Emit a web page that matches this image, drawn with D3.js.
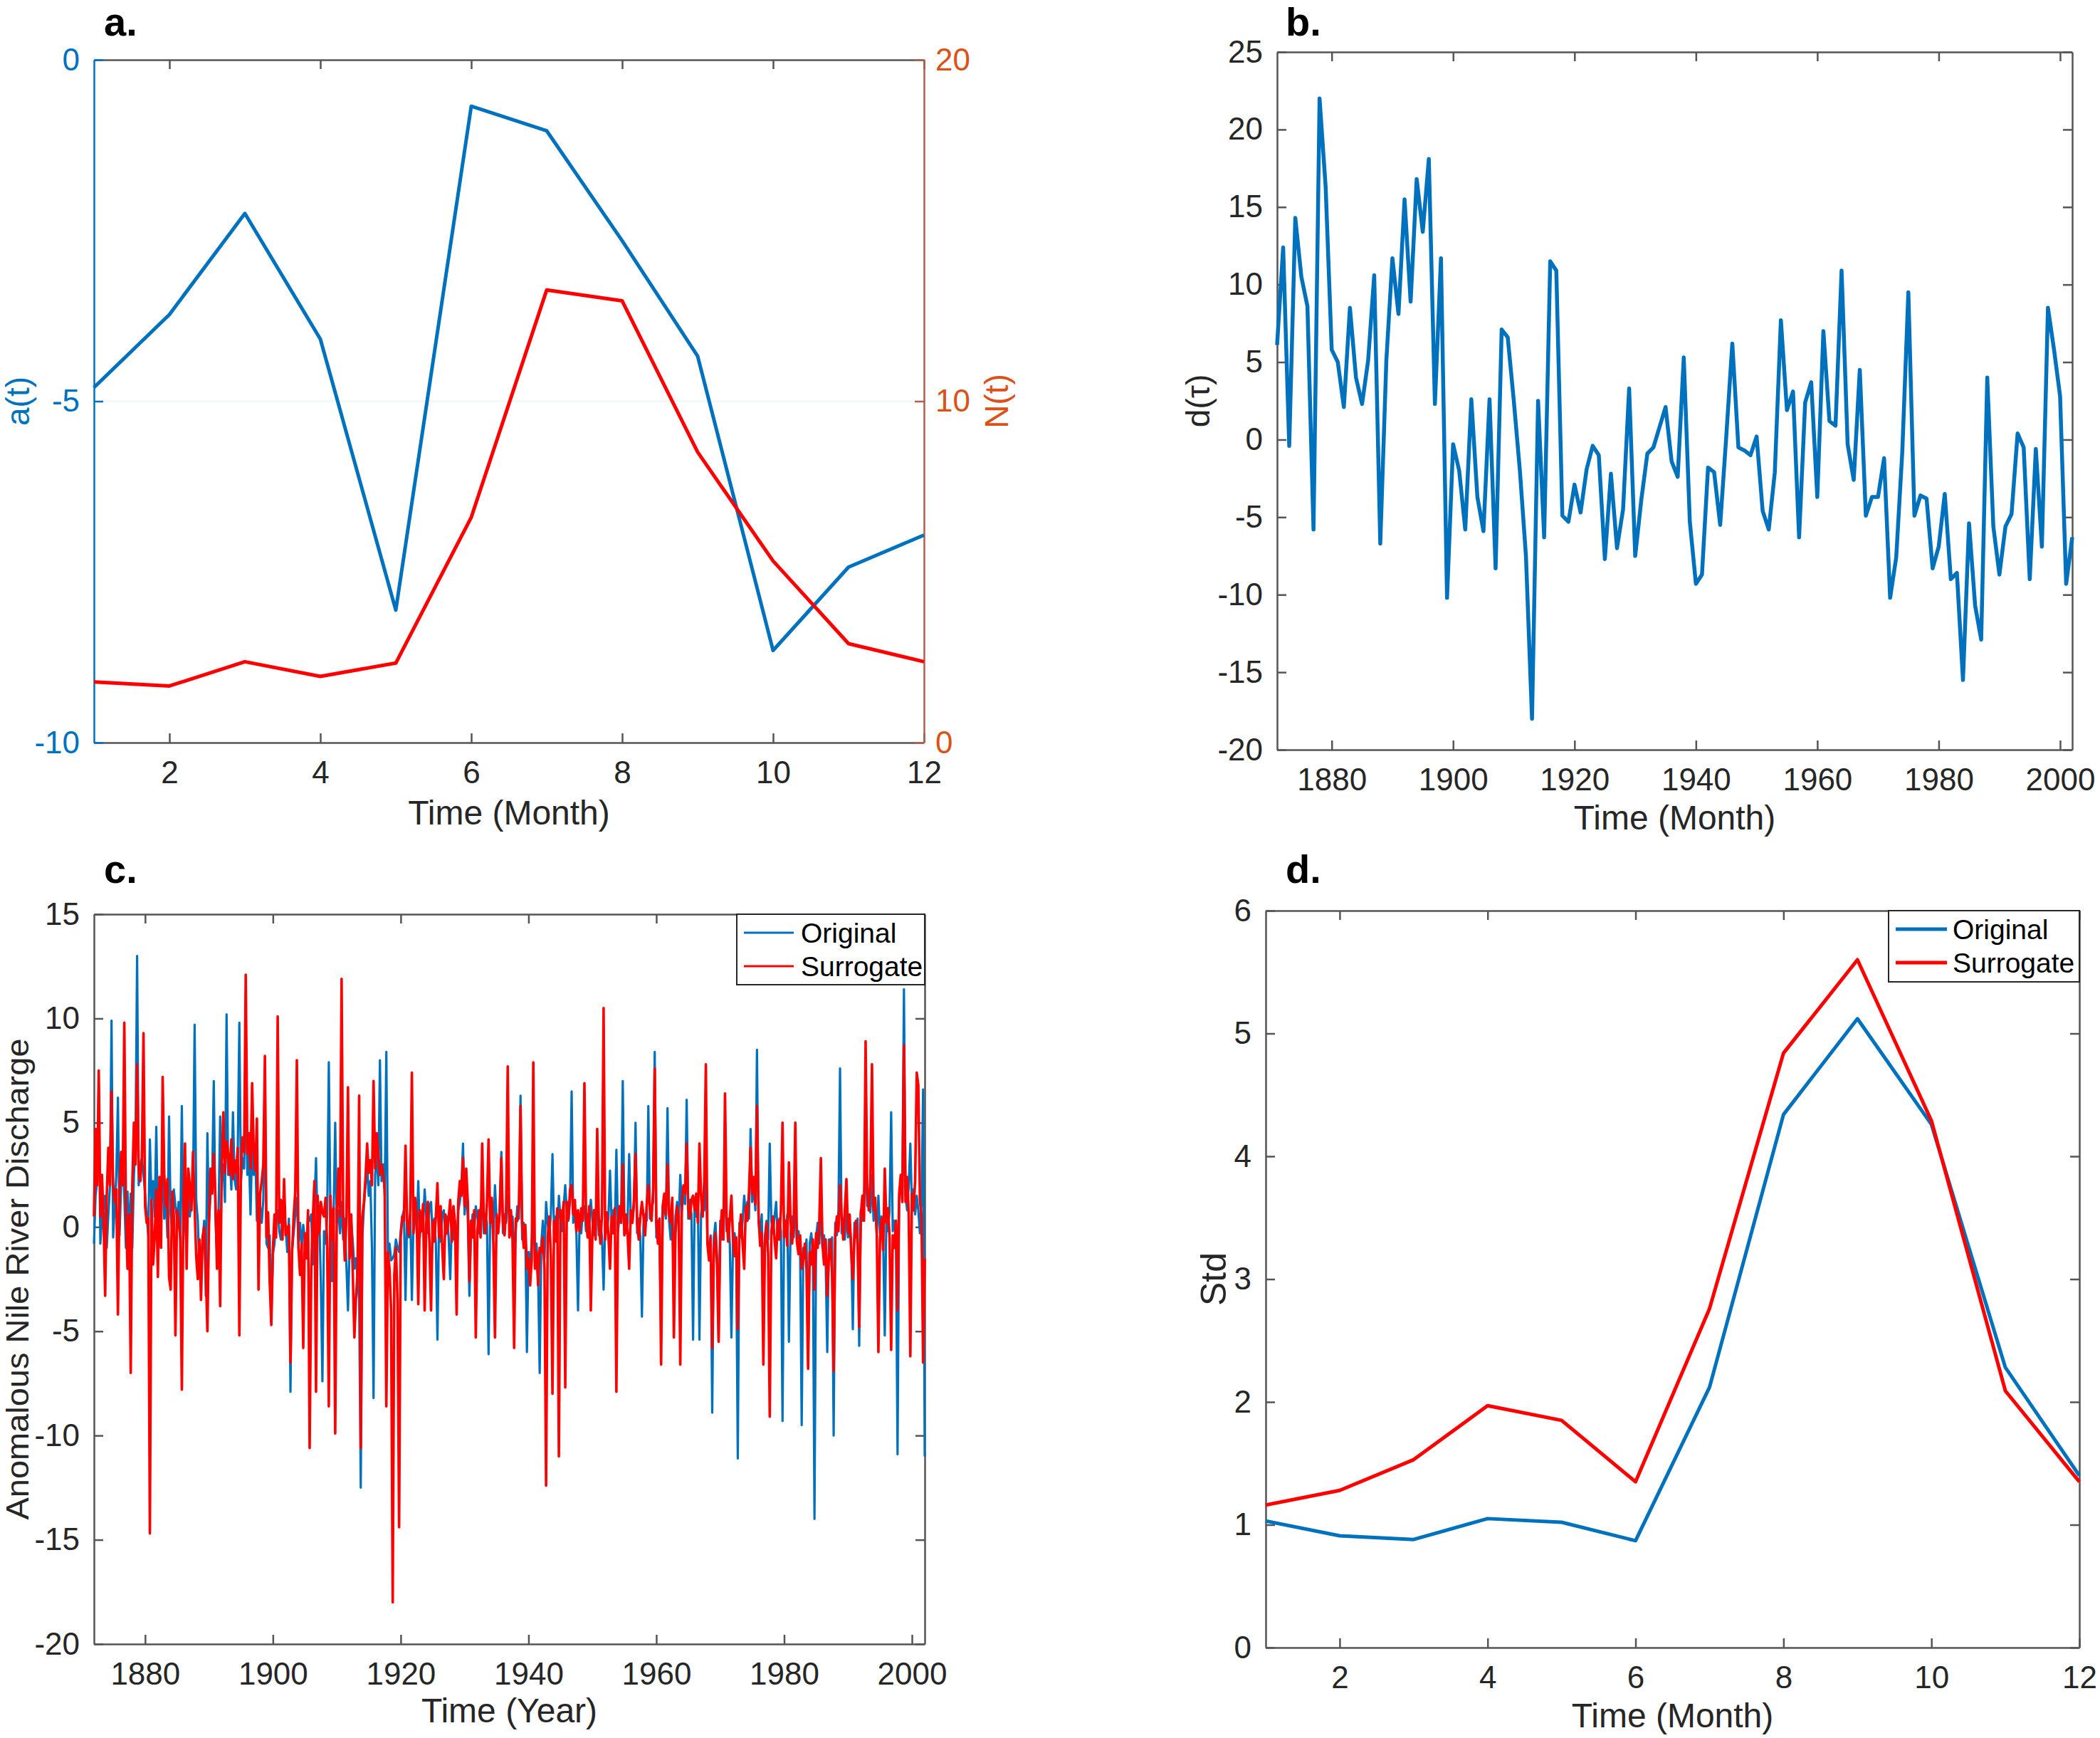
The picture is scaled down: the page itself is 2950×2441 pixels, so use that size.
<!DOCTYPE html>
<html>
<head>
<meta charset="utf-8">
<script src="https://cdn.jsdelivr.net/npm/d3@7"></script>
<style>
body { margin: 0; background: #fff; }
svg { display: block; }
</style>
</head>
<body>
<svg id="fig"></svg>
<script>
// panel a: monthly a(t) and N(t)
const months = [1,2,3,4,5,6,7,8,9,10,11,12];
const aT = [-4.80,-3.73,-2.25,-4.09,-8.06,-0.68,-1.04,-2.65,-4.34,-8.65,-7.43,-6.96];
const nT = [1.78,1.66,2.37,1.94,2.33,6.60,13.26,12.94,8.51,5.32,2.90,2.37];

// panel b: yearly d(tau), 1871..2002
const dTauStart = 1871;
const dTau = [
  6.1,12.4,-0.4,14.3,10.5,8.6,-5.8,22.0,16.3,
  5.8,5.0,2.1,8.5,4.0,2.3,5.1,10.6,-6.7,5.1,
  11.7,8.1,15.5,8.9,16.8,13.4,18.1,2.3,11.7,-10.2,
  -0.3,-2.0,-5.8,2.6,-3.7,-5.9,2.6,-8.3,7.1,6.6,
  2.5,-2.0,-7.5,-18.0,2.5,-6.3,11.5,10.9,-4.9,-5.3,
  -2.9,-4.7,-1.9,-0.4,-1.0,-7.7,-2.2,-7.0,-4.5,3.3,
  -7.5,-3.9,-0.9,-0.5,0.8,2.1,-1.4,-2.4,5.3,-5.3,
  -9.3,-8.7,-1.8,-2.1,-5.5,0.2,6.2,-0.5,-0.7,-1.0,
  0.2,-4.6,-5.8,-2.1,7.7,1.9,3.1,-6.3,2.4,3.7,
  -3.7,7.0,1.2,0.9,10.9,-0.3,-2.6,4.5,-4.9,-3.7,
  -3.7,-1.2,-10.2,-7.6,-0.8,9.5,-4.9,-3.6,-3.8,-8.3,
  -6.9,-3.5,-9.0,-8.6,-15.5,-5.4,-10.7,-12.9,4.0,-5.6,
  -8.7,-5.6,-4.8,0.4,-0.5,-9.0,-0.6,-6.9,8.5,5.8,
  2.8,-9.3,-6.3
];

// panel c: anomalous discharge, read at quarter-year steps from 1872
const dischargeStart = 1872;
const dischargeStep = 0.25;
const discOriginal = [
  -0.8,1.5,2.2,6.8, -0.8,0.5,1,1.5, -1,0.6,2,9.9, -0.5,1,2.5,6.2, -0.4,2,3.4,1.5,
  -1,1.7,-0.5,1.6, -1,2.5,4,13, 2,3,3.3,2.5,
  1.6,0.5,-0.4,4.2, 1.3,2.2,0.5,4.8, 0.3,1,2,2.5, 0.4,1.5,-0.5,5.3, 0.6,-0.3,1.8,1,
  0.4,1.2,-0.6,5.8, -0.6,0.8,0.3,1.5, 0.5,1.4,1.7,9.7, 1.3,0.3,-2,-1.5, -0.6,0.3,-3.3,4.5,
  0.2,1.6,2.3,7, 0.5,-1.3,0.7,5.3, 2.2,3,1.2,10.2, 2.5,3.5,1.8,5.5, 2.3,1.8,3.6,9.8,
  2.2,3.3,2.8,7, 2.5,3.5,0.6,4, 2.5,3.5,0.3,1.5, 1,0.2,1.3,6.5, -0.8,-1,-0.4,-4.5,
  -1.3,-0.8,0.4,0.8, -0.2,-0.6,0.3,0.8, 0,-1.2,0.4,-7.9, -1.1,-0.3,0.6,1.4, -0.8,0.2,-1,0.1,
  -0.6,-1.4,0.5,0.3, 0.6,-1.8,1,3.3, -0.4,0.6,-2.6,-7.4, -0.2,-0.8,0.6,7.9, 0.6,-2.6,0.6,5,
  0.2,0.8,-0.3,1.2, -0.6,0.4,-1.8,-4, -1,0.3,-0.7,-2, -1.5,-2.5,-3.5,-12.5, -0.5,1,2,3,
  1.5,2.2,-1,-8.2, 2.5,3.5,2,8, 2.2,3,1.5,8.4, -1.3,-0.8,-1.6,-1.5, -1.3,-0.6,-1,-1.2,
  -0.2,0.5,0.8,-3.5, 0.3,-0.5,0.6,-3.5, 0.3,1,-0.2,2.2, -0.5,0.6,0.2,1.8, 0.5,-0.3,1,1.2,
  -0.5,0.4,-0.8,-5.4, 0.3,-0.7,0.6,0.8, -0.4,0.5,-0.5,-2.5, 0.2,-0.6,0.3,-1.2, 0.8,1.2,2,4,
  0.6,1.8,0.5,-3.3, -0.4,0.6,-0.2,1, 0.5,-0.3,0.9,1.4, -0.3,0.6,0.2,-6.1, 0.5,1.3,-0.5,2,
  0.4,-0.2,1,3.6, -0.3,0.6,0.2,1.5, 0.6,-0.4,0.5,-1.2, -0.2,1,0.4,6.3, -0.6,0.2,-0.3,-6,
  -1.2,-1.8,-0.8,1, -1.5,-0.8,-2.2,-7, -0.8,0.3,-1.5,1.2, 0.2,-0.4,0.6,3.5, -0.3,0.5,-0.6,1.5,
  0.4,-0.2,1,2, 0.7,0.3,1.3,6.5, 0.2,0.9,-0.4,-4, 0.4,-0.3,0.8,1, -0.2,0.6,0.2,1.3,
  0.3,-0.4,0.5,1.5, -0.4,0.3,-0.5,-3, 0.2,-0.2,0.4,2.7, 0.3,0.8,-0.2,3.7, -0.2,0.5,0.6,7,
  0.4,-0.3,0.2,3.5, 0.6,0.2,1,5, -0.3,0.4,-0.5,-4.3, 0.2,0.6,0.3,5.8, 0.4,0.9,1.2,8.4,
  -0.5,0.3,-0.8,-4.5, 0.6,1,0.4,5.7, 0.3,-0.6,0.9,-3, 0.5,1.2,0.2,2.5, 0.8,1.5,1.1,6.1,
  0.4,1.3,0.6,-5.4, 1.2,0.5,1.4,-5.4, 0.6,1.4,0.8,2.5, -0.6,-1.2,-0.4,-8.9, -0.5,0.2,-1.4,-5.3,
  0.3,-0.6,0.5,1.8, -0.2,0.4,-0.8,-5.3, -0.8,-0.3,-1.2,-11.1, 0.2,-0.5,0.3,1.5, 0.6,1.2,0.4,4.7,
  1.2,2,0.8,8.5, 0.2,-0.5,0.6,-4, -0.4,0.3,-0.6,4, 0.3,-0.3,0.5,1.2, -0.5,0.4,-0.2,-9.3,
  0.4,-0.3,0.6,-5.5, -0.3,0.5,-0.5,1.5, -0.6,-0.2,-0.9,-9.5, -1,-1.5,-0.6,-6.3, -0.8,-0.3,-1.2,-14,
  -0.5,0.2,-0.8,1.2, -1,-0.4,-1.6,-6, -0.6,-1.2,-0.5,-10, 0.2,-0.4,0.8,7.6, -0.3,0.4,-0.6,1,
  -0.5,0.2,-0.8,-4.9, 0.2,-0.5,0.4,-5.7, 0.8,0.3,1.2,3.5, 1,1.6,0.7,2.5, 0.3,0.9,-0.3,1.5,
  -0.3,0.5,-0.6,-5.2, 0.4,-0.2,0.8,5.5, -0.2,0.3,-0.5,-10.9, 1.2,2,1.6,11.4, 1.5,0.8,2,4,
  1,1.8,0.6,1.5, 0.8,-0.3,1.2,6.6, -11
];
const discSurrogate = [
  0.5,4.7,2,7.5, 0.5,2.5,0.4,-3.3, 1.5,3.8,2,6.5, 2,1.2,1.8,-4.2, 1.6,3.6,2,9.8,
  0.8,-2,0.6,-7, 2,5,3,7.8, 2.7,2.2,3.3,9.3,
  1,0.2,0.4,-14.7, 1.3,-1.8,-0.5,1.8, -2.4,2.4,-1,7.2, 2.5,1,2.3,-2.4, -3,1.7,0.5,-5.2,
  0.8,0.4,-0.5,-7.8, 1.2,4,-2,2.8, 2,0.8,3.6,1, -1.4,-2.5,-0.6,-3.5, -0.5,0,-2,-5,
  0.2,2.8,1.6,3.5, 1.5,-2,0.8,-3.8, 3,5.5,2.6,4.1, 3.5,2.5,4.2,2.3, 3.2,2.6,3.8,-5.2,
  2.8,4.3,3.6,12.1, 3.5,4.5,2.8,6.9, 3.6,2.7,5.2,-3, 1.6,2.2,3,8.2, -0.5,0.7,-2.6,-4.7,
  -1.1,0.6,-0.5,10.1, 0.2,1.3,-0.6,2.3, -0.4,-0.1,0.1,-6.5, -1.2,0.5,1.7,8, -1,-2.3,-0.8,-5.8,
  -0.3,-1.5,0.8,-10.6, -2,0.4,2.2,-7.9, 1.5,-0.3,1.2,0.7, 0.5,1.4,-1,-8.6, 1.5,-0.6,0.9,-9.9,
  0.7,2.8,0.5,11.9, 0.6,-1.6,0.4,6.7, -1.5,0.6,-2.2,-5.3, -3.4,-2.2,6.3,-10.6, 0.5,1.2,2.4,4,
  2.6,3.2,2,7, 2.8,4.5,3.5,2.5, 3,2.6,1.8,-8.6, -1.2,-2,-4,-18, -2.3,-1,-3.5,-14.4,
  -0.5,0.5,0.3,3.9, 0.2,-0.4,0.8,7.4, -0.3,1.4,0.5,-3.7, 0.8,-0.2,1.1,-4, 0.2,1.2,-0.8,-4,
  0.3,-0.7,0.5,2.1, -0.5,1,-1,-2.5, 0.6,-0.3,0.4,1.3, -0.7,1,0.2,-4.2, 1.2,2.2,1.5,3.3,
  1,2.8,1.2,-2.6, 0.3,-0.5,0.8,-5.3, -0.2,0.8,-0.5,4, 0.5,-0.3,1.2,4.2, 0.2,1.4,-0.8,-5.3,
  0.6,-0.3,0.7,3.3, 0.2,-0.4,1,7.7, -0.5,0.8,-0.6,-5.8, 0.4,0.3,1,5.8, 0.2,-1,0.1,-2,
  -1.5,-2.8,-1.6,7.9, -2,-1.2,-2.8,-1, -1.2,-0.5,-2,-12.4, -0.5,0.5,-1.4,-8, 0.3,-0.7,0.9,-11,
  0.8,0.3,1.2,-7.7, 1.2,0.4,1.8,2, 0.6,1.3,-0.2,0.8, -0.2,0.9,0.3,6.9, 0.5,-0.5,1,-4,
  -0.3,0.8,-0.6,4.7, 0.4,-0.8,0.6,10.5, -0.6,0.7,-0.4,-2, 0.5,-0.3,0.9,-7.9, 0.3,1,0.2,3,
  -0.4,0.6,-0.3,-2, 0.8,0.2,1.3,3.5, 0.2,-0.6,0.5,1.2, 0.5,-0.4,1.1,2, 0.9,0.3,1.8,7.6,
  0.3,-0.8,0.4,-6.6, 1,1.6,0.6,3, 0.6,0.2,1.4,-5.3, -0.3,1,0.5,-6.6, 1.2,2,1.6,4,
  0.9,0.4,1.3,1.5, 0.8,1.6,0.2,4, 1.5,0.5,2.2,7.8, -0.8,-1.6,-0.5,-5.8, -1.2,-0.3,-1.8,-5.5,
  -0.4,0.8,-0.6,6.4, 0.5,-0.7,0.4,1.5, -0.6,-1.4,-0.5,-4.9, -0.3,0.6,-0.8,-2, 1,0.3,1.7,3.8,
  1.6,2.4,1.1,5.8, 0.6,-0.9,-0.3,-6.6, -0.8,0.2,-1.3,-9.1, -0.2,0.5,-0.6,-1.5, 0.3,-0.6,0.8,5,
  -0.5,0.3,-0.9,3.1, 0.4,-0.8,0.3,5, -0.7,-1.3,-0.4,-2, -1.5,-0.8,-2,-6.8, -1.2,-1.8,-0.6,-3,
  -0.3,-1,0.2,3.3, -0.8,-1.8,-0.6,-3.3, -1.5,-0.6,-2.2,-6.9, -0.4,0.5,-0.2,2, 0.5,-0.6,0.8,2.3,
  -0.3,0.6,-1.2,-2.5, -0.5,0.3,-0.9,-4.8, 0.6,1.5,0.3,8.9, 1.8,0.8,2.3,7.8, 0.8,1.4,-0.4,-6,
  -0.6,0.4,-1.1,2.8, 0.2,0.9,-0.5,-5.9, -0.4,-1,0.3,-4, 1.6,2.5,1.2,8.7, 1.2,2.4,0.6,-6.2,
  1.6,0.8,2.2,7.4, 6.8,1.3,0.5,-6.5, -1.5
];

// panel d: monthly standard deviation
const stdOriginal = [1.03,0.91,0.88,1.05,1.02,0.87,2.12,4.34,5.12,4.26,2.28,1.40];
const stdSurrogate = [1.16,1.28,1.53,1.97,1.85,1.35,2.76,4.84,5.60,4.29,2.09,1.35];

// ticks
const monthTicks = [2,4,6,8,10,12];
const yearTicks = [1880,1900,1920,1940,1960,1980,2000];
const aTicks = [-10,-5,0];
const nTicks = [0,10,20];
const dTauTicks = [-20,-15,-10,-5,0,5,10,15,20,25];
const dischargeTicks = [-20,-15,-10,-5,0,5,10,15];
const stdTicks = [0,1,2,3,4,5,6];
const legendLabels = ["Original","Surrogate"];

const blue = "#0072BD", red = "#FF0000", orange = "#D95319", ink = "#262626", rule = "#555555";
const font = "'Liberation Sans', Arial, Helvetica, sans-serif";
const tickLen = 13;

let svg = d3.select("#fig").attr("width", 2950).attr("height", 2441);
svg.append("rect").attr("width", 2950).attr("height", 2441).attr("fill", "white");

function styleAxis(sel, color, lineColor) {
  sel.attr("font-family", font).attr("font-size", 44).attr("color", color || ink);
  sel.select(".domain").attr("stroke-width", 2.5).attr("stroke", lineColor || rule);
  sel.selectAll(".tick line").attr("stroke-width", 2.5).attr("stroke", lineColor || rule);
}

function fmt(d) { return String(d); }

// box with ticks on all four sides, labels on bottom and left
function frame(g, x, y, w, h, xTicks, yTicks, opts) {
  opts = opts || {};
  g.append("g").attr("transform", "translate(0," + h + ")")
    .call(d3.axisBottom(x).tickValues(xTicks).tickSize(-tickLen).tickSizeOuter(0).tickPadding(26).tickFormat(fmt))
    .call(s => styleAxis(s));
  g.append("g")
    .call(d3.axisTop(x).tickValues(xTicks).tickSize(-tickLen).tickSizeOuter(0).tickFormat(""))
    .call(s => styleAxis(s));
  if (!opts.noY) {
    g.append("g")
      .call(d3.axisLeft(y).tickValues(yTicks).tickSize(-tickLen).tickSizeOuter(0).tickPadding(20).tickFormat(fmt))
      .call(s => styleAxis(s));
    g.append("g").attr("transform", "translate(" + w + ",0)")
      .call(d3.axisRight(y).tickValues(yTicks).tickSize(-tickLen).tickSizeOuter(0).tickFormat(""))
      .call(s => styleAxis(s));
  }
}

function xTitle(g, w, h, text, dy) {
  g.append("text").attr("x", w / 2).attr("y", h + dy)
    .attr("text-anchor", "middle").attr("font-family", font).attr("font-size", 48)
    .attr("fill", ink).text(text);
}

function yTitle(g, xpos, h, text, color, size, len) {
  let t = g.append("text").attr("transform", "translate(" + xpos + "," + (h / 2) + ") rotate(-90)")
    .attr("text-anchor", "middle").attr("font-family", font).attr("font-size", size || 48)
    .attr("fill", color || ink).text(text);
  if (len) t.attr("textLength", len).attr("lengthAdjust", "spacingAndGlyphs");
}

function panelLetter(x, y, text) {
  svg.append("text").attr("x", x).attr("y", y)
    .attr("font-family", font).attr("font-weight", "bold").attr("font-size", 56)
    .attr("fill", "black").text(text);
}

function legend(g, x0, y0, w, h, lineW, strokes, lineLen, textX) {
  let lg = g.append("g").attr("transform", "translate(" + x0 + "," + y0 + ")");
  lg.append("rect").attr("width", w).attr("height", h)
    .attr("fill", "white").attr("stroke", ink).attr("stroke-width", 2);
  legendLabels.forEach((lab, i) => {
    let cy = 26 + i * 47;
    lg.append("line").attr("x1", 10).attr("x2", 10 + lineLen).attr("y1", cy).attr("y2", cy)
      .attr("stroke", strokes[i]).attr("stroke-width", lineW);
    lg.append("text").attr("x", textX).attr("y", cy + 14)
      .attr("font-family", font).attr("font-size", 39).attr("fill", "black").text(lab);
  });
}

// ---------- panel a ----------
{
  let w = 1166, h = 959;
  let g = svg.append("g").attr("transform", "translate(132,84)");
  let x = d3.scaleLinear().domain([1, 12]).range([0, w]);
  let yl = d3.scaleLinear().domain([-10, 0]).range([h, 0]);
  let yr = d3.scaleLinear().domain([0, 20]).range([h, 0]);

  g.append("line").attr("x1", 0).attr("x2", w).attr("y1", yl(-5)).attr("y2", yl(-5))
    .attr("stroke", "#eaf6f8").attr("stroke-width", 2);

  frame(g, x, yl, w, h, monthTicks, aTicks, {noY: true});
  g.append("g")
    .call(d3.axisLeft(yl).tickValues(aTicks).tickSize(-tickLen).tickSizeOuter(0).tickPadding(20).tickFormat(fmt))
    .call(s => styleAxis(s, blue, blue));
  g.append("g").attr("transform", "translate(" + w + ",0)")
    .call(d3.axisRight(yr).tickValues(nTicks).tickSize(-tickLen).tickSizeOuter(0).tickPadding(16).tickFormat(fmt))
    .call(s => styleAxis(s, orange, "#b0604a"));

  g.append("path").datum(months.map((m, i) => [m, aT[i]]))
    .attr("fill", "none").attr("stroke", blue).attr("stroke-width", 5).attr("stroke-linejoin", "round")
    .attr("d", d3.line().x(d => x(d[0])).y(d => yl(d[1])));
  g.append("path").datum(months.map((m, i) => [m, nT[i]]))
    .attr("fill", "none").attr("stroke", red).attr("stroke-width", 5).attr("stroke-linejoin", "round")
    .attr("d", d3.line().x(d => x(d[0])).y(d => yr(d[1])));

  xTitle(g, w, h, "Time (Month)", 115);
  yTitle(g, -91, h, "a(t)", blue, 46);
  yTitle(g, w + 118, h, "N(t)", orange, 46);
  panelLetter(146, 50, "a.");
}

// ---------- panel b ----------
{
  let w = 1117, h = 980;
  let g = svg.append("g").attr("transform", "translate(1794,73)");
  let x = d3.scaleLinear().domain([1871, 2002]).range([0, w]);
  let y = d3.scaleLinear().domain([-20, 25]).range([h, 0]);
  frame(g, x, y, w, h, yearTicks, dTauTicks);
  g.append("path").datum(dTau.map((v, i) => [dTauStart + i, v]))
    .attr("fill", "none").attr("stroke", blue).attr("stroke-width", 5.5).attr("stroke-linejoin", "round")
    .attr("d", d3.line().x(d => x(d[0])).y(d => y(d[1])));
  xTitle(g, w, h, "Time (Month)", 112);
  yTitle(g, -95, h, "d(τ)", ink, 46);
  panelLetter(1806, 50, "b.");
}

// ---------- panel c ----------
{
  let w = 1167, h = 1025;
  let g = svg.append("g").attr("transform", "translate(132,1284)");
  let x = d3.scaleLinear().domain([1872, 2002]).range([0, w]);
  let y = d3.scaleLinear().domain([-20, 15]).range([h, 0]);
  frame(g, x, y, w, h, yearTicks, dischargeTicks);
  let line = d3.line().x(d => x(d[0])).y(d => y(d[1]));
  g.append("path").datum(discOriginal.map((v, i) => [dischargeStart + i * dischargeStep, v]))
    .attr("fill", "none").attr("stroke", blue).attr("stroke-width", 3.2).attr("stroke-linejoin", "round")
    .attr("d", line);
  g.append("path").datum(discSurrogate.map((v, i) => [dischargeStart + i * dischargeStep, v]))
    .attr("fill", "none").attr("stroke", red).attr("stroke-width", 3.6).attr("stroke-linejoin", "round")
    .attr("d", line);
  legend(g, w - 264, 0, 264, 99, 3, [blue, red], 70, 90);
  xTitle(g, w, h, "Time (Year)", 110);
  yTitle(g, -92, h, "Anomalous Nile River Discharge", ink, 44, 676);
  panelLetter(146, 1240, "c.");
}

// ---------- panel d ----------
{
  let w = 1143, h = 1035;
  let g = svg.append("g").attr("transform", "translate(1778,1279)");
  let x = d3.scaleLinear().domain([1, 12]).range([0, w]);
  let y = d3.scaleLinear().domain([0, 6]).range([h, 0]);
  frame(g, x, y, w, h, monthTicks, stdTicks);
  let line = d3.line().x(d => x(d[0])).y(d => y(d[1]));
  g.append("path").datum(months.map((m, i) => [m, stdOriginal[i]]))
    .attr("fill", "none").attr("stroke", blue).attr("stroke-width", 5).attr("stroke-linejoin", "round")
    .attr("d", line);
  g.append("path").datum(months.map((m, i) => [m, stdSurrogate[i]]))
    .attr("fill", "none").attr("stroke", red).attr("stroke-width", 5).attr("stroke-linejoin", "round")
    .attr("d", line);
  legend(g, w - 268, 0, 268, 100, 5, [blue, red], 72, 90);
  xTitle(g, w, h, "Time (Month)", 112);
  yTitle(g, -56, h, "Std", ink, 50);
  panelLetter(1806, 1240, "d.");
}
</script>
</body>
</html>
